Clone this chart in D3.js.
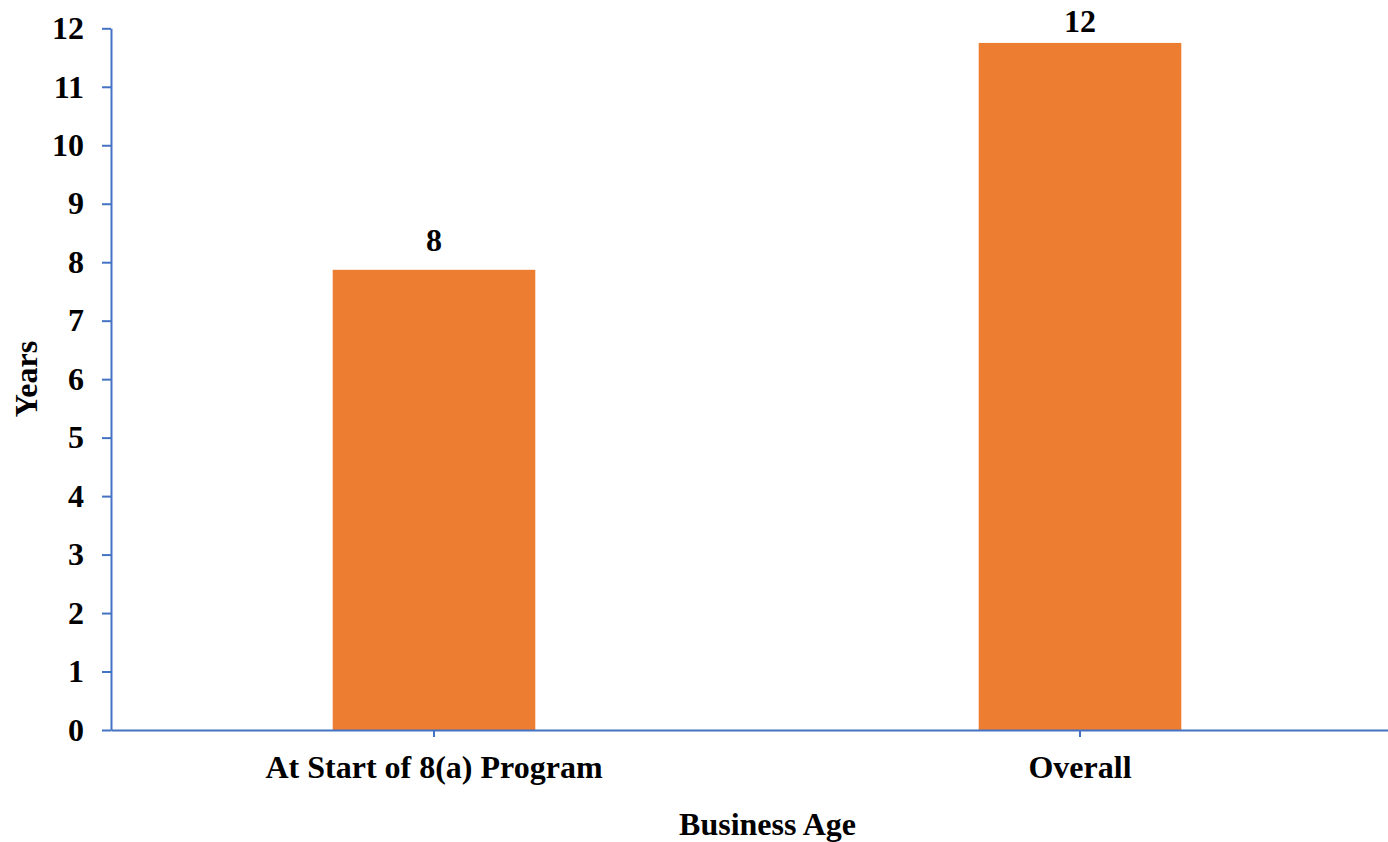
<!DOCTYPE html>
<html>
<head>
<meta charset="utf-8">
<script src="https://cdn.jsdelivr.net/npm/d3@7"></script>
<style>
  html, body { margin: 0; padding: 0; background: #fff; }
  svg { display: block; }
  text { font-family: "Liberation Serif", "Times New Roman", serif; font-weight: bold; fill: #000; }
</style>
</head>
<body>
<script>
// Average business age, in years
const categories = ["At Start of 8(a) Program", "Overall"];
const years = [7.87, 11.75];
const yTicks = [0, 1, 2, 3, 4, 5, 6, 7, 8, 9, 10, 11, 12];

const W = 1388, H = 842;
const axisColor = "#4472C4";
const barColor = "#ED7D31";
const fontSize = 32;

const svg = d3.select("body").append("svg")
  .attr("width", W).attr("height", H);

const x = d3.scaleBand()
  .domain(categories)
  .range([111, 1403])
  .paddingInner(0.6864)
  .paddingOuter(0.3432);

const y = d3.scaleLinear()
  .domain([0, 12])
  .range([730, 28.3]);

// Bars
svg.append("g")
  .selectAll("rect")
  .data(categories)
  .join("rect")
  .attr("x", d => x(d))
  .attr("width", x.bandwidth())
  .attr("y", (d, i) => y(years[i]))
  .attr("height", (d, i) => y(0) - y(years[i]))
  .attr("fill", barColor);

// Value labels above the bars
const fmt = d3.format(".0f");
svg.append("g")
  .selectAll("text")
  .data(categories)
  .join("text")
  .attr("x", d => x(d) + x.bandwidth() / 2)
  .attr("y", (d, i) => Math.max(y(years[i]) - 19, 32))
  .attr("text-anchor", "middle")
  .style("font-size", fontSize + "px")
  .text((d, i) => fmt(years[i]));

// Y axis
const yAxis = svg.append("g")
  .attr("transform", "translate(111,0)")
  .call(d3.axisLeft(y).tickValues(yTicks).tickFormat(d3.format("d"))
    .tickSize(9).tickSizeOuter(0).tickPadding(18));
yAxis.select(".domain").attr("stroke", axisColor).attr("stroke-width", 2);
yAxis.selectAll(".tick line").attr("stroke", axisColor).attr("stroke-width", 2);
yAxis.selectAll(".tick text")
  .style("font-size", fontSize + "px")
  .style("font-family", "'Liberation Serif', 'Times New Roman', serif")
  .style("font-weight", "bold")
  .attr("fill", "#000");

// X axis
const xAxis = svg.append("g")
  .attr("transform", "translate(0,730)")
  .call(d3.axisBottom(x).tickSize(7).tickSizeOuter(0));
xAxis.select(".domain").attr("stroke", axisColor).attr("stroke-width", 2);
xAxis.selectAll(".tick line").attr("stroke", axisColor).attr("stroke-width", 2);
xAxis.selectAll(".tick text")
  .attr("y", 48).attr("dy", 0)
  .style("font-size", fontSize + "px")
  .style("font-family", "'Liberation Serif', 'Times New Roman', serif")
  .style("font-weight", "bold")
  .attr("fill", "#000");

// Axis titles
svg.append("text")
  .attr("transform", "translate(37,379) rotate(-90)")
  .attr("text-anchor", "middle")
  .style("font-size", fontSize + "px")
  .text("Years");

svg.append("text")
  .attr("x", 767.5)
  .attr("y", 835)
  .attr("text-anchor", "middle")
  .style("font-size", fontSize + "px")
  .text("Business Age");
</script>
</body>
</html>
